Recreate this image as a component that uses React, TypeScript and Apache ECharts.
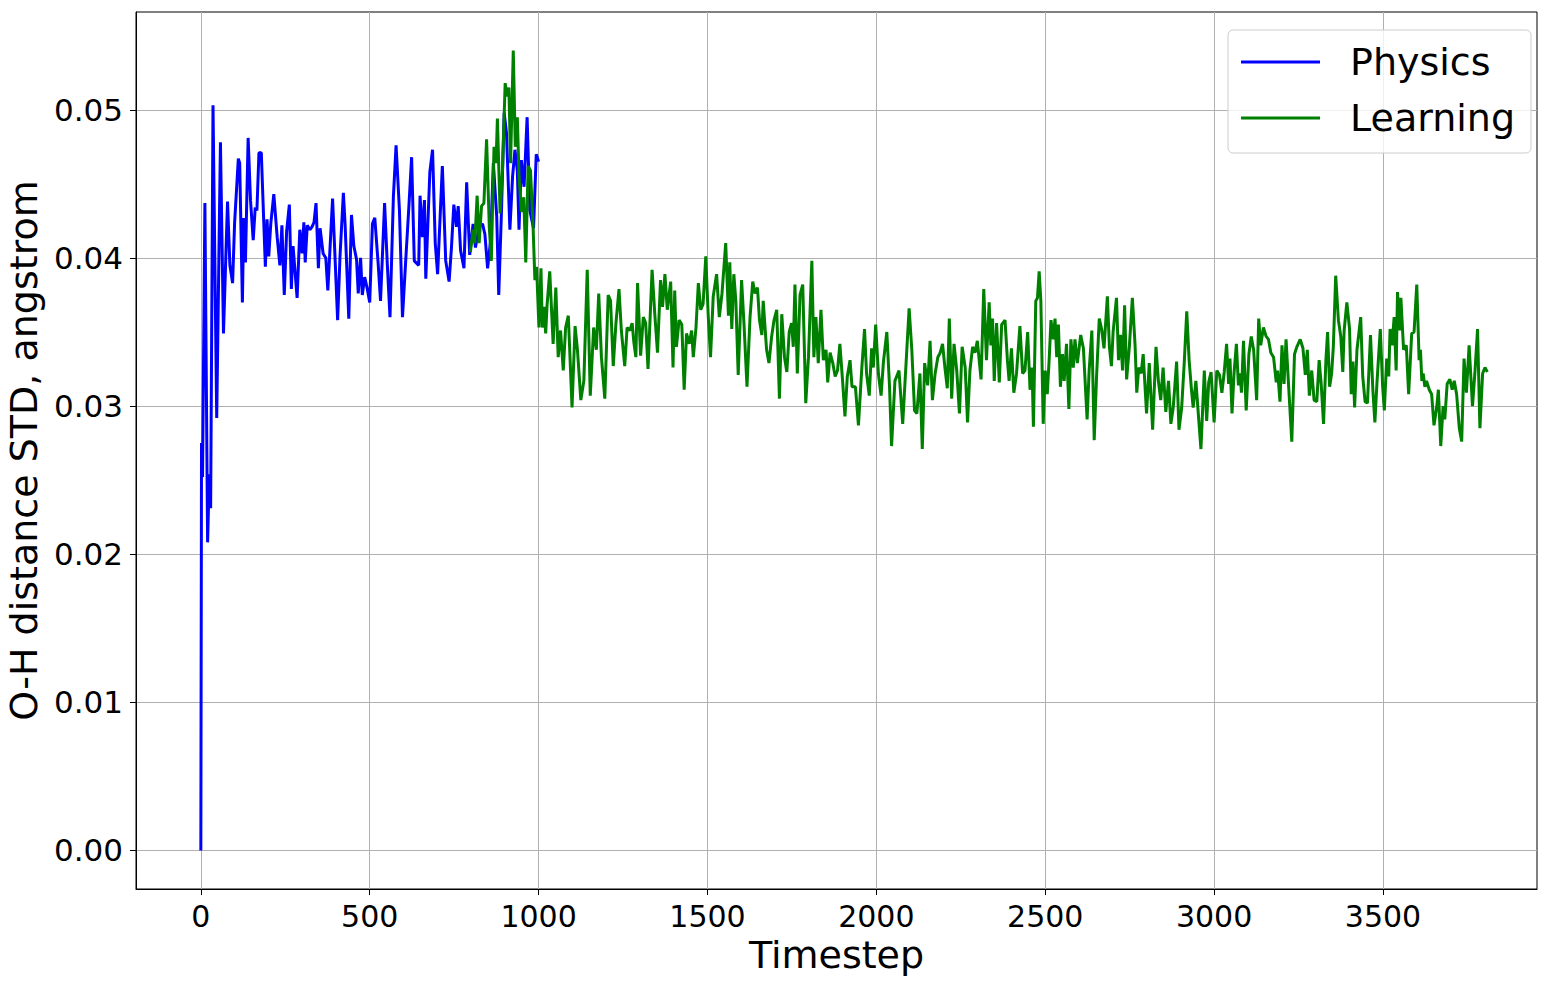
import React, { useEffect, useRef } from "react";
import * as echarts from "echarts";

const FONT = "DejaVu Sans";

// Axis ticks
const xTicks = [0, 500, 1000, 1500, 2000, 2500, 3000, 3500];
const yTicks = [0, 0.01, 0.02, 0.03, 0.04, 0.05];
const X_MIN = -192;
const X_MAX = 3956;
const Y_MIN = -0.0026;
const Y_MAX = 0.0566;

// Physics series (timestep, O-H distance STD)
const physicsT = [
  0, 2, 5, 12, 20, 25, 29, 36, 47, 58, 67, 79, 86, 94, 100, 111, 115, 123, 127, 132,
  140, 147, 155, 161, 166, 172, 179, 191, 196, 201, 207, 216, 226, 234, 240, 247, 254, 262, 268, 273,
  285, 293, 300, 305, 309, 315, 323, 329, 335, 341, 348, 353, 362, 370, 376, 390, 405, 412, 422, 427,
  438, 446, 453, 461, 466, 473, 478, 485, 492, 500, 508, 515, 525, 532, 544, 552, 560, 570, 578, 588,
  597, 606, 616, 624, 632, 645, 649, 656, 662, 666, 678, 686, 694, 701, 715, 725, 735, 742, 749, 757,
  762, 769, 779, 787, 796, 806, 813, 824, 834, 841, 849, 858, 866, 876, 882, 890, 898, 905, 915, 923,
  930, 937, 942, 949, 957, 966, 974, 985, 993, 1000,
];
const physicsV = [
  0, 0.0275, 0.0252, 0.0437, 0.0208, 0.0254, 0.0231, 0.0503, 0.0292, 0.0478, 0.0349, 0.0438, 0.0395, 0.0383, 0.0424, 0.0467, 0.0464, 0.037, 0.0427, 0.0397,
  0.0481, 0.0439, 0.0412, 0.0434, 0.0432, 0.0471, 0.0471, 0.0394, 0.0426, 0.0401, 0.0423, 0.0443, 0.0414, 0.0395, 0.0422, 0.0375, 0.0418, 0.0436, 0.0379, 0.0408,
  0.0373, 0.0419, 0.0403, 0.0424, 0.0397, 0.0422, 0.0419, 0.0421, 0.0424, 0.0437, 0.0393, 0.042, 0.0403, 0.04, 0.0378, 0.044, 0.0358, 0.0401, 0.0444, 0.0423,
  0.0359, 0.0429, 0.0408, 0.0399, 0.0376, 0.04, 0.0375, 0.0387, 0.038, 0.037, 0.0423, 0.0427, 0.0396, 0.0371, 0.0437, 0.0396, 0.036, 0.0441, 0.0476, 0.0432,
  0.036, 0.0396, 0.0435, 0.0468, 0.0398, 0.0395, 0.0442, 0.0414, 0.0439, 0.0386, 0.0458, 0.0473, 0.041, 0.0389, 0.0462, 0.0398, 0.0384, 0.0407, 0.0436, 0.0421,
  0.0435, 0.0405, 0.0393, 0.0451, 0.0402, 0.0423, 0.0407, 0.0421, 0.0423, 0.0416, 0.0393, 0.0412, 0.0464, 0.0428, 0.0375, 0.0431, 0.0498, 0.0484, 0.0419, 0.0455,
  0.0473, 0.0459, 0.0419, 0.0466, 0.0448, 0.0495, 0.0432, 0.042, 0.047, 0.0465,
];

// Learning series (timestep, O-H distance STD)
const learningT = [
  798, 806, 811, 818, 824, 831, 838, 846, 854, 860, 868, 874, 878, 886, 893, 901, 907, 912, 917, 925,
  931, 937, 942, 949, 956, 962, 969, 976, 984, 989, 994, 1001, 1007, 1011, 1016, 1021, 1025, 1033, 1043, 1051,
  1058, 1065, 1073, 1080, 1088, 1099, 1108, 1115, 1125, 1134, 1144, 1153, 1163, 1171, 1178, 1186, 1196, 1206, 1213, 1221,
  1229, 1238, 1245, 1255, 1262, 1270, 1277, 1282, 1288, 1293, 1302, 1310, 1317, 1324, 1336, 1344, 1352, 1361, 1367, 1374,
  1381, 1391, 1398, 1403, 1408, 1416, 1424, 1431, 1438, 1446, 1453, 1458, 1466, 1473, 1480, 1487, 1495, 1502, 1509, 1517,
  1527, 1535, 1543, 1554, 1562, 1566, 1572, 1578, 1584, 1591, 1601, 1608, 1617, 1626, 1634, 1641, 1648, 1654, 1661, 1665,
  1675, 1682, 1690, 1697, 1705, 1713, 1720, 1728, 1735, 1742, 1749, 1754, 1759, 1766, 1774, 1782, 1791, 1799, 1809, 1815,
  1821, 1828, 1836, 1843, 1851, 1856, 1863, 1871, 1878, 1885, 1892, 1900, 1907, 1914, 1922, 1928, 1938, 1947, 1957, 1965,
  1971, 1979, 1986, 1991, 1998, 2006, 2014, 2021, 2031, 2039, 2045, 2055, 2067, 2078, 2088, 2097, 2105, 2113, 2120, 2129,
  2136, 2143, 2152, 2159, 2166, 2174, 2182, 2189, 2196, 2203, 2210, 2216, 2223, 2230, 2238, 2246, 2254, 2263, 2270, 2277,
  2285, 2292, 2299, 2310, 2318, 2326, 2334, 2339, 2344, 2349, 2356, 2364, 2371, 2381, 2388, 2393, 2400, 2407, 2415, 2425,
  2433, 2440, 2448, 2455, 2461, 2465, 2472, 2477, 2482, 2487, 2494, 2500, 2506, 2512, 2517, 2524, 2529, 2534, 2539, 2545,
  2551, 2556, 2563, 2570, 2576, 2583, 2588, 2595, 2605, 2613, 2624, 2630, 2638, 2645, 2652, 2660, 2667, 2674, 2684, 2690,
  2696, 2701, 2711, 2717, 2723, 2729, 2735, 2741, 2749, 2758, 2766, 2771, 2777, 2784, 2790, 2800, 2808, 2818, 2828, 2835,
  2842, 2849, 2857, 2865, 2872, 2879, 2889, 2896, 2904, 2912, 2919, 2926, 2933, 2938, 2946, 2961, 2971, 2978, 2984, 2991,
  3000, 3008, 3016, 3023, 3030, 3037, 3043, 3047, 3053, 3059, 3066, 3072, 3077, 3081, 3087, 3095, 3103, 3110, 3117, 3126,
  3132, 3138, 3146, 3154, 3161, 3168, 3176, 3184, 3188, 3195, 3201, 3207, 3213, 3221, 3230, 3238, 3245, 3255, 3263, 3270,
  3276, 3282, 3289, 3296, 3304, 3311, 3317, 3324, 3331, 3336, 3342, 3348, 3353, 3360, 3368, 3375, 3381, 3385, 3393, 3401,
  3406, 3411, 3416, 3423, 3434, 3440, 3447, 3454, 3463, 3470, 3476, 3482, 3492, 3499, 3504, 3511, 3517, 3521, 3527, 3533,
  3539, 3543, 3549, 3553, 3561, 3569, 3576, 3585, 3592, 3600, 3607, 3611, 3615, 3619, 3624, 3629, 3637, 3644, 3651, 3659,
  3664, 3671, 3678, 3683, 3690, 3698, 3705, 3711, 3718, 3726, 3733, 3740, 3747, 3755, 3765, 3772, 3780, 3787, 3795, 3802,
  3809,
];
const learningV = [
  0.0404, 0.0419, 0.041, 0.0442, 0.041, 0.0435, 0.0437, 0.048, 0.0421, 0.0398, 0.0475, 0.0464, 0.0494, 0.043, 0.0459, 0.0518, 0.0509, 0.0515, 0.0464, 0.054,
  0.0475, 0.0495, 0.0455, 0.0431, 0.0441, 0.0397, 0.0462, 0.0459, 0.0419, 0.0385, 0.0394, 0.0353, 0.0393, 0.0353, 0.0367, 0.0349, 0.0368, 0.0391, 0.0342, 0.038,
  0.0333, 0.0351, 0.0324, 0.0353, 0.0361, 0.0299, 0.0354, 0.0338, 0.0304, 0.0317, 0.0392, 0.0307, 0.0353, 0.0338, 0.0376, 0.0333, 0.0305, 0.0375, 0.0371, 0.0327,
  0.0356, 0.0379, 0.0351, 0.0327, 0.0353, 0.0351, 0.0356, 0.0343, 0.0333, 0.0383, 0.0334, 0.036, 0.0356, 0.0325, 0.0392, 0.0362, 0.0336, 0.0385, 0.0367, 0.0389,
  0.0365, 0.0384, 0.0326, 0.0378, 0.034, 0.0358, 0.0355, 0.0311, 0.0349, 0.0342, 0.0351, 0.0333, 0.0353, 0.0383, 0.0365, 0.0369, 0.0401, 0.0362, 0.0333, 0.0374,
  0.0389, 0.036, 0.0376, 0.041, 0.0361, 0.0397, 0.0352, 0.0389, 0.0371, 0.0321, 0.0385, 0.0356, 0.0313, 0.036, 0.0384, 0.0376, 0.038, 0.0358, 0.0348, 0.0371,
  0.0338, 0.0329, 0.0347, 0.0358, 0.0365, 0.0305, 0.0362, 0.0333, 0.0323, 0.035, 0.0356, 0.034, 0.0382, 0.0322, 0.0375, 0.0382, 0.0302, 0.0333, 0.0398, 0.0333,
  0.036, 0.0329, 0.0365, 0.0331, 0.0338, 0.0316, 0.0336, 0.0329, 0.032, 0.0324, 0.0342, 0.0317, 0.0293, 0.032, 0.0331, 0.0313, 0.0313, 0.0287, 0.0326, 0.0352,
  0.0322, 0.0307, 0.0339, 0.0326, 0.0355, 0.0322, 0.0307, 0.033, 0.035, 0.0313, 0.0273, 0.0317, 0.0324, 0.0288, 0.0329, 0.0366, 0.0338, 0.0297, 0.0295, 0.0322,
  0.0271, 0.0329, 0.0314, 0.0344, 0.0304, 0.0322, 0.0333, 0.0336, 0.0342, 0.0326, 0.0312, 0.0359, 0.0305, 0.0342, 0.0324, 0.0295, 0.034, 0.0326, 0.0289, 0.0324,
  0.034, 0.0336, 0.0344, 0.0318, 0.0379, 0.0331, 0.037, 0.0341, 0.0359, 0.0317, 0.0356, 0.0316, 0.0355, 0.0358, 0.0331, 0.0317, 0.0339, 0.0309, 0.0322, 0.0354,
  0.0322, 0.0324, 0.035, 0.0311, 0.0326, 0.0286, 0.0371, 0.0373, 0.0391, 0.0371, 0.0288, 0.0324, 0.0308, 0.0333, 0.0358, 0.0345, 0.0359, 0.0333, 0.0355, 0.0313,
  0.0335, 0.0317, 0.0342, 0.0298, 0.0345, 0.0326, 0.0345, 0.0329, 0.0348, 0.0339, 0.0291, 0.0324, 0.0351, 0.0277, 0.032, 0.0359, 0.0352, 0.0339, 0.0374, 0.034,
  0.0327, 0.035, 0.0373, 0.0331, 0.0348, 0.0324, 0.0368, 0.0318, 0.034, 0.0373, 0.0341, 0.0309, 0.0326, 0.0322, 0.0335, 0.0295, 0.0329, 0.0284, 0.034, 0.0317,
  0.0304, 0.0326, 0.0296, 0.0317, 0.0288, 0.0299, 0.033, 0.0284, 0.0299, 0.0331, 0.0364, 0.0331, 0.0311, 0.0299, 0.0317, 0.0271, 0.0324, 0.029, 0.0316, 0.0323,
  0.0289, 0.0324, 0.0321, 0.0309, 0.0323, 0.0342, 0.0315, 0.0332, 0.0295, 0.0322, 0.0342, 0.0314, 0.0322, 0.0309, 0.0344, 0.0297, 0.0335, 0.0347, 0.0338, 0.0304,
  0.0359, 0.0341, 0.0353, 0.0347, 0.0345, 0.0336, 0.0333, 0.0316, 0.0324, 0.0303, 0.0341, 0.0315, 0.0345, 0.0312, 0.0276, 0.0335, 0.034, 0.0345, 0.0339, 0.0321,
  0.0338, 0.0307, 0.0324, 0.0304, 0.0303, 0.0331, 0.0315, 0.0288, 0.0331, 0.035, 0.0313, 0.0322, 0.034, 0.0388, 0.0358, 0.0347, 0.0323, 0.0351, 0.037, 0.0352,
  0.0308, 0.033, 0.0299, 0.0338, 0.036, 0.032, 0.0303, 0.0302, 0.0348, 0.0311, 0.0289, 0.0315, 0.0352, 0.0313, 0.0297, 0.0332, 0.032, 0.0352, 0.0341, 0.036,
  0.0324, 0.0377, 0.0351, 0.0373, 0.0338, 0.0341, 0.0308, 0.0349, 0.035, 0.0382, 0.0331, 0.0338, 0.0317, 0.0322, 0.0313, 0.0317, 0.0311, 0.0308, 0.0287, 0.0299,
  0.0311, 0.0273, 0.03, 0.0291, 0.0315, 0.0318, 0.0311, 0.0317, 0.0308, 0.0285, 0.0276, 0.0332, 0.0309, 0.0341, 0.03, 0.0322, 0.0352, 0.0285, 0.0322, 0.0326,
  0.0323,
];

const SERIES_NAMES = ["Physics", "Learning"];
const SERIES_COLORS = ["#0000ff", "#008000"];

const pairs = (t: number[], v: number[]) => t.map((x, i) => [x, v[i]]);

export default function App() {
  const ref = useRef<HTMLDivElement>(null);

  useEffect(() => {
    if (!ref.current) return;
    const chart = echarts.init(ref.current, null, { renderer: "svg" });
    const axisTextStyle = { fontFamily: FONT, color: "#000" };
    chart.setOption({
      animation: false,
      backgroundColor: "#ffffff",
      textStyle: { fontFamily: FONT },
      grid: {
        left: 136,
        right: 25,
        top: 12,
        bottom: 97,
        containLabel: false,
        outerBoundsMode: "none",
        show: true,
        borderColor: "#000",
        borderWidth: 1,
        backgroundColor: "transparent",
      },
      legend: {
        data: SERIES_NAMES.map((n) => ({ name: n, icon: "rect" })),
        orient: "vertical",
        right: 31,
        top: 30,
        itemWidth: 79,
        itemHeight: 3,
        itemGap: 18,
        padding: [13, 16, 16, 13],
        backgroundColor: "rgba(255,255,255,0.8)",
        borderColor: "#cccccc",
        borderWidth: 1,
        borderRadius: 5,
        textStyle: { ...axisTextStyle, fontSize: 38, lineHeight: 36, padding: [0, 0, 0, 25] },
      },
      xAxis: {
        type: "value",
        min: X_MIN,
        max: X_MAX,
        name: "Timestep",
        nameLocation: "middle",
        nameGap: 46,
        nameTextStyle: { ...axisTextStyle, fontSize: 38 },
        axisLine: { show: true, onZero: false, lineStyle: { color: "#000", width: 1 } },
        axisTick: { show: true, length: 6, customValues: xTicks, lineStyle: { color: "#000", width: 1 } },
        axisLabel: { ...axisTextStyle, fontSize: 30, margin: 12, customValues: xTicks, formatter: (v: number) => String(v) },
        splitLine: { show: true, lineStyle: { color: "#b0b0b0", width: 1 } },
      },
      yAxis: {
        type: "value",
        min: Y_MIN,
        max: Y_MAX,
        name: "O-H distance STD, angstrom",
        nameLocation: "middle",
        nameGap: 85,
        nameTextStyle: { ...axisTextStyle, fontSize: 38 },
        axisLine: { show: true, onZero: false, lineStyle: { color: "#000", width: 1 } },
        axisTick: { show: true, length: 6, customValues: yTicks, lineStyle: { color: "#000", width: 1 } },
        axisLabel: { ...axisTextStyle, fontSize: 31, margin: 13, customValues: yTicks, formatter: (v: number) => v.toFixed(2) },
        splitLine: { show: true, lineStyle: { color: "#b0b0b0", width: 1 } },
      },
      series: [
        {
          name: SERIES_NAMES[0],
          type: "line",
          data: pairs(physicsT, physicsV),
          symbol: "none",
          showSymbol: false,
          color: SERIES_COLORS[0],
          lineStyle: { color: SERIES_COLORS[0], width: 3 },
          z: 2,
        },
        {
          name: SERIES_NAMES[1],
          type: "line",
          data: pairs(learningT, learningV),
          symbol: "none",
          showSymbol: false,
          color: SERIES_COLORS[1],
          lineStyle: { color: SERIES_COLORS[1], width: 3 },
          z: 3,
        },
      ],
    });
    return () => chart.dispose();
  }, []);

  return (
    <div
      ref={ref}
      style={{ position: "fixed", left: 0, top: 0, width: 1562, height: 986, background: "#fff" }}
    />
  );
}
